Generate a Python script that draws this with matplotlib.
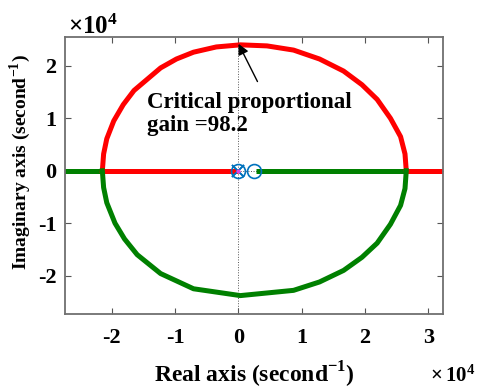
import matplotlib
matplotlib.use("Agg")
import matplotlib.pyplot as plt

# root locus values, in units of 1e4 s^-1
upper_x = [-2.15, -2.13, -2.08, -1.97, -1.82, -1.65, -1.23, -0.98, -0.71, -0.35,
           0.03, 0.45, 0.87, 1.28, 1.66, 1.95, 2.19, 2.40, 2.56, 2.63, 2.65]
upper_y = [0.00, 0.32, 0.61, 0.95, 1.26, 1.53, 1.96, 2.13, 2.26, 2.36,
           2.40, 2.38, 2.30, 2.13, 1.90, 1.64, 1.36, 1.00, 0.65, 0.32, 0.00]
lower_x = [-2.15, -2.13, -2.08, -1.95, -1.80, -1.60, -1.23, -0.71, 0.03,
           0.87, 1.28, 1.66, 1.95, 2.19, 2.40, 2.56, 2.63, 2.65]
lower_y = [0.00, -0.32, -0.61, -1.00, -1.30, -1.60, -1.96, -2.25, -2.38,
           -2.28, -2.12, -1.90, -1.65, -1.38, -1.02, -0.66, -0.34, 0.00]

# real-axis branches
red_real_x = [[-2.15, 0.0], [2.65, 3.4]]
green_real_x = [[-3.0, -2.15], [0.27, 2.65]]

poles_x = [0.0, 0.0]
zeros_x = [0.0, 0.24]

crit_x, crit_y = 0.0, 2.42
crit_gain = 98.2

plt.rcParams['font.family'] = ['Liberation Serif', 'DejaVu Serif']
plt.rcParams['font.weight'] = 'bold'
plt.rcParams['axes.unicode_minus'] = False
plt.rcParams['mathtext.fontset'] = 'custom'
plt.rcParams['mathtext.rm'] = 'Liberation Serif:bold'
plt.rcParams['mathtext.bf'] = 'Liberation Serif:bold'

fig = plt.figure(figsize=(4.8, 3.91), dpi=100)
ax = fig.add_axes([0.1354, 0.1957, 0.7875, 0.7084])

red = '#ff0000'
green = '#008000'
blue = '#0072bd'

# dotted axes lines
ax.axvline(0, color='#555555', lw=0.7, ls=':', zorder=1)
ax.axhline(0, color='#555555', lw=0.7, ls=':', zorder=1)

for seg in red_real_x:
    ax.plot(seg, [0, 0], color=red, lw=3.6, solid_capstyle='butt', zorder=2)
for seg in green_real_x:
    ax.plot(seg, [0, 0], color=green, lw=3.6, solid_capstyle='butt', zorder=2)
ax.plot(upper_x, upper_y, color=red, lw=3.6, zorder=3)
ax.plot(lower_x, lower_y, color=green, lw=3.6, zorder=3)

ax.plot(poles_x, [0, 0], ls='none', marker='x', ms=9, mew=1.2, color=blue, zorder=4)
ax.plot(zeros_x, [0, 0], ls='none', marker='o', ms=10, mew=1.2, mfc='none', mec=blue, zorder=4)
ax.plot([0], [0], ls='none', marker='.', ms=4, color='#e040e0', zorder=5)

# arrow to the crossing with the imaginary axis
ax.annotate('', xy=(crit_x, crit_y), xytext=(0.30, 1.70),
            arrowprops=dict(arrowstyle='-|>', color='black', lw=1.0,
                            mutation_scale=16, shrinkA=0, shrinkB=0))
ax.text(-1.44, 1.50, 'Critical proportional\ngain =%.1f' % crit_gain,
        fontsize=16.5, fontweight='bold', ha='left', va='top', linespacing=1.15)

ax.set_xlim(-2.74, 3.23)
ax.set_ylim(-2.74, 2.54)
ax.set_xticks([-2, -1, 0, 1, 2, 3])
ax.set_yticks([-2, -1, 0, 1, 2])
ax.tick_params(direction='in', length=4, width=0.8, color='#555555',
               top=True, right=True, labelsize=16, pad=6)
ax.tick_params(axis='x', pad=10)
for lab in ax.get_xticklabels() + ax.get_yticklabels():
    lab.set_fontweight('bold')
for sp in ax.spines.values():
    sp.set_color('#707070')
    sp.set_linewidth(1.3)

ax.set_xlabel('Real axis (second$^{-1}$)', fontsize=17, fontweight='bold', labelpad=8)
ax.set_ylabel('Imaginary axis (second$^{-1}$)', fontsize=14, fontweight='bold')
ax.yaxis.set_label_coords(-0.085, 0.55)

fig.text(0.141, 0.913, r'$\times\mathbf{10^{4}}$', fontsize=18, ha='left', va='baseline')
fig.text(0.895, 0.023, r'$\times\,\mathbf{10^{4}}$', fontsize=15, ha='left', va='baseline')

fig.savefig('out.png', dpi=100)
